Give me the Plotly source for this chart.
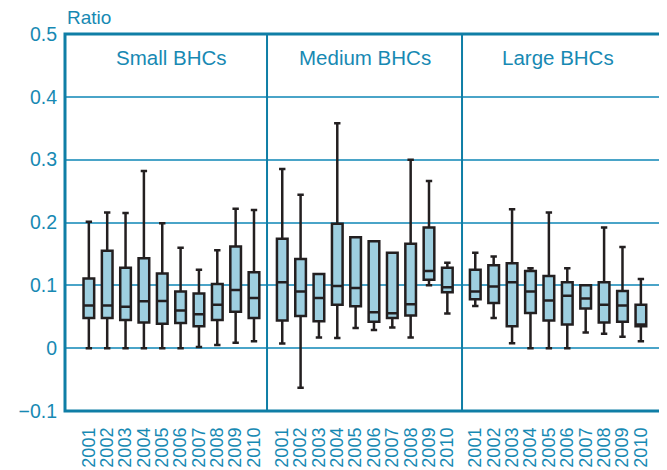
import plotly.graph_objects as go

years = [2001, 2002, 2003, 2004, 2005, 2006, 2007, 2008, 2009, 2010]
year_labels = [str(y) for y in years]
panels = ["Small BHCs", "Medium BHCs", "Large BHCs"]

# Small BHCs
small_low = [0.0, 0.0, 0.0, 0.0, 0.0, 0.0, 0.002, 0.005, 0.0085, 0.011]
small_q1 = [0.048, 0.048, 0.045, 0.041, 0.039, 0.040, 0.035, 0.045, 0.058, 0.048]
small_med = [0.068, 0.068, 0.066, 0.0745, 0.075, 0.060, 0.054, 0.069, 0.0925, 0.080]
small_q3 = [0.111, 0.155, 0.128, 0.143, 0.119, 0.090, 0.087, 0.102, 0.162, 0.121]
small_high = [0.201, 0.216, 0.215, 0.282, 0.199, 0.160, 0.125, 0.156, 0.222, 0.220]

# Medium BHCs
medium_low = [0.0074, -0.063, 0.017, 0.016, 0.032, 0.029, 0.033, 0.017, 0.100, 0.055]
medium_q1 = [0.044, 0.051, 0.043, 0.069, 0.0666, 0.042, 0.048, 0.052, 0.109, 0.089]
medium_med = [0.105, 0.090, 0.080, 0.099, 0.0957, 0.057, 0.0555, 0.070, 0.123, 0.097]
medium_q3 = [0.174, 0.142, 0.118, 0.198, 0.1765, 0.170, 0.152, 0.166, 0.192, 0.128]
medium_high = [0.285, 0.244, 0.118, 0.358, 0.1765, 0.170, 0.152, 0.300, 0.266, 0.136]

# Large BHCs
large_low = [0.067, 0.048, 0.008, 0.0, 0.0, 0.0, 0.025, 0.023, 0.018, 0.011]
large_q1 = [0.078, 0.072, 0.035, 0.056, 0.044, 0.0375, 0.063, 0.041, 0.042, 0.035]
large_med = [0.090, 0.098, 0.105, 0.090, 0.076, 0.0835, 0.079, 0.069, 0.068, 0.0375]
large_q3 = [0.125, 0.132, 0.135, 0.123, 0.115, 0.105, 0.100, 0.105, 0.091, 0.069]
large_high = [0.152, 0.146, 0.221, 0.127, 0.216, 0.127, 0.100, 0.192, 0.161, 0.110]

y_ticks = [-0.1, 0, 0.1, 0.2, 0.3, 0.4, 0.5]
y_tick_labels = ["\u22120.1", "0", "0.1", "0.2", "0.3", "0.4", "0.5"]

TEXT = "#1789b3"
FRAME = "#0f7ea6"
GRID = "#4aa4c8"
BOXLINE = "#231f20"
FILL = "#9ecfe0"
FONT = "Liberation Sans, Arial, sans-serif"

data_sets = [
    (small_low, small_q1, small_med, small_q3, small_high),
    (medium_low, medium_q1, medium_med, medium_q3, medium_high),
    (large_low, large_q1, large_med, large_q3, large_high),
]
axes = ["x", "x2", "x3"]
domains = [[0, 0.3367], [0.3367, 0.6617], [0.6617, 1.0]]
ranges = [[1999.70, 2010.71], [2000.17, 2010.80], [2000.28, 2011.31]]

fig = go.Figure()
for (lo, q1, med, q3, hi), ax in zip(data_sets, axes):
    fig.add_trace(go.Box(
        x=years, q1=q1, median=med, q3=q3, lowerfence=lo, upperfence=hi,
        xaxis=ax, yaxis="y",
        fillcolor=FILL, line=dict(color=BOXLINE, width=2.5),
        width=0.58, whiskerwidth=0.6, boxpoints=False, showlegend=False,
        hoverinfo="skip",
    ))

layout = dict(
    width=667, height=470,
    margin=dict(l=54, r=10, t=26, b=66),
    paper_bgcolor="white", plot_bgcolor="white",
    font=dict(family=FONT, color=TEXT),
    yaxis=dict(
        range=[-0.1, 0.5], tickvals=y_ticks, ticktext=y_tick_labels,
        showgrid=True, gridcolor=GRID, gridwidth=1.5, zeroline=False,
        showline=False, ticks="", ticklabelstandoff=7,
        tickfont=dict(size=19.5, color=TEXT, family=FONT),
        anchor="x",
    ),
    showlegend=False,
)
for i, ax in enumerate(axes):
    key = "xaxis" if i == 0 else f"xaxis{i+1}"
    layout[key] = dict(
        domain=domains[i], range=ranges[i], anchor="y",
        tickvals=years, ticktext=year_labels, tickangle=-90,
        showgrid=False, zeroline=False, showline=False, ticks="",
        ticklabelstandoff=12,
        tickfont=dict(size=18, color=TEXT, family=FONT),
    )
fig.update_layout(**layout)

# Frame and panel dividers
fig.add_shape(type="rect", xref="paper", yref="paper", x0=0, x1=1, y0=0, y1=1,
              line=dict(color=FRAME, width=3), layer="above")
for d in [domains[1][0], domains[2][0]]:
    fig.add_shape(type="line", xref="paper", yref="paper", x0=d, x1=d, y0=0, y1=1,
                  line=dict(color=FRAME, width=2), layer="above")

# Panel titles
for name, ax in zip(panels, axes):
    fig.add_annotation(text=name, x=2005.5, y=0.463, xref=ax, yref="y",
                       showarrow=False, xanchor="center", yanchor="middle",
                       font=dict(size=20.5, color=TEXT, family=FONT))

# Axis title
fig.add_annotation(text="Ratio", xref="paper", yref="paper", x=0.0, y=1.045,
                   xanchor="left", yanchor="middle", showarrow=False,
                   font=dict(size=19, color=TEXT, family=FONT))

fig.write_html("out.html")
